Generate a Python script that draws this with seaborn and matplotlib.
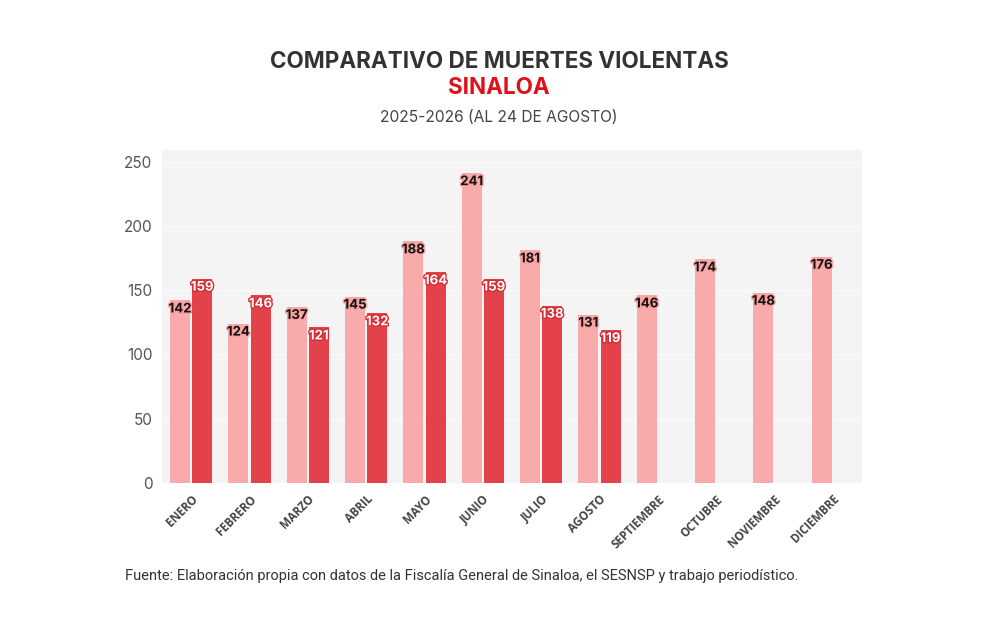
import numpy as np
import pandas as pd
import matplotlib
matplotlib.use("Agg")
import matplotlib.pyplot as plt
import matplotlib.patheffects as pe
import seaborn as sns

months = ["ENERO", "FEBRERO", "MARZO", "ABRIL", "MAYO", "JUNIO", "JULIO",
          "AGOSTO", "SEPTIEMBRE", "OCTUBRE", "NOVIEMBRE", "DICIEMBRE"]
y2025 = [142, 124, 137, 145, 188, 241, 181, 131, 146, 174, 148, 176]
y2026 = [159, 146, 121, 132, 164, 159, 138, 119, None, None, None, None]
years = ["2025", "2026"]
yticks = [0, 50, 100, 150, 200, 250]

df = pd.DataFrame({
    "mes": months * 2,
    "anio": [years[0]] * len(months) + [years[1]] * len(months),
    "valor": [np.nan if v is None else v for v in y2025 + y2026],
})

sns.set_theme(style="white")
plt.rcParams['font.family'] = ['Inter', 'DejaVu Sans']

fig = plt.figure(figsize=(9.98, 6.3), dpi=100)
ax = fig.add_axes([0.1623, 0.2333, 0.7014, 0.5286])
ax.set_facecolor("#f4f4f4")

palette = {"2025": "#f9abab", "2026": "#e4424a"}
sns.barplot(data=df, x="mes", y="valor", hue="anio", order=months,
            hue_order=years, palette=palette, width=0.76, gap=0.1,
            saturation=1, legend=False, ax=ax, zorder=3, linewidth=0,
            edgecolor="none")

ax.set_ylim(0, 259)
ax.set_xlim(-0.5, len(months) - 0.5)
ax.set_yticks(yticks)
ax.set_yticklabels([str(t) for t in yticks], fontsize=11, color="#555555")
ax.grid(axis="y", color="#fafafa", linewidth=1.0, zorder=0)
ax.set_axisbelow(True)
for s in ax.spines.values():
    s.set_visible(False)
ax.set_xlabel("")
ax.set_ylabel("")
ax.tick_params(axis="both", length=0, pad=7)
ax.set_xticks(range(len(months)))
ax.set_xticklabels(months, rotation=45, ha="right", rotation_mode="anchor",
                   fontsize=8.3, fontweight="bold", color="#444444",
                   family=['Open Sans', 'DejaVu Sans'])

for cont, yr in zip(ax.containers, years):
    for bar in cont:
        h = bar.get_height()
        if np.isnan(h) or h == 0:
            continue
        cx = bar.get_x() + bar.get_width() / 2
        if yr == "2025":
            ax.text(cx, h - 7, f"{int(h)}", ha="center", va="center",
                    fontsize=9.5, fontweight="bold", color="#111111", zorder=5,
                    path_effects=[pe.withStroke(linewidth=2, foreground="#f7a0a0")])
        else:
            ax.text(cx, h - 7, f"{int(h)}", ha="center", va="center",
                    fontsize=9.5, fontweight="bold", color="white", zorder=5,
                    path_effects=[pe.withStroke(linewidth=2, foreground="#d62c34")])

fig.text(0.5, 0.902, "COMPARATIVO DE MUERTES VIOLENTAS", ha="center", va="center",
         fontsize=16.2, fontweight="bold", color="#333333")
fig.text(0.5, 0.860, "SINALOA", ha="center", va="center",
         fontsize=16.2, fontweight="bold", color="#e0101b")
fig.text(0.5, 0.813, "2025-2026 (AL 24 DE AGOSTO)", ha="center", va="center",
         fontsize=11.2, color="#444444")
fig.text(0.125, 0.085, "Fuente: Elaboración propia con datos de la Fiscalía General de Sinaloa, el SESNSP y trabajo periodístico.",
         ha="left", va="center", fontsize=10.5, color="#333333",
         family=['Roboto', 'DejaVu Sans'])

fig.savefig("out.png", dpi=100, facecolor="white")
